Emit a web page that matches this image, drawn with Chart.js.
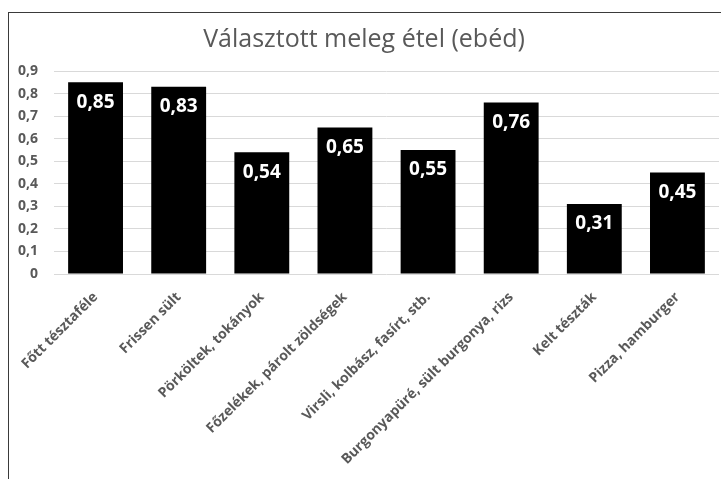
<!DOCTYPE html>
<html>
<head>
<meta charset="utf-8">
<script src="https://cdn.jsdelivr.net/npm/chart.js@4"></script>
<style>
  html, body { margin: 0; padding: 0; background: #fff; overflow: hidden; }
  #frame {
    position: absolute; left: 8px; top: 12px; width: 760px; height: 480px;
    border-left: 1px solid #3a3a3a; border-top: 1px solid #3a3a3a;
  }
  #wrap { position: absolute; left: 0; top: 0; width: 746px; height: 466px; }
</style>
</head>
<body>
<div id="frame"><div id="wrap"><canvas id="myChart"></canvas></div></div>
<script>
const chartTitle = 'Választott meleg étel (ebéd)';
const categories = [
  'Főtt tésztaféle',
  'Frissen sült',
  'Pörköltek, tokányok',
  'Főzelékek, párolt zöldségek',
  'Virsli, kolbász, fasírt, stb.',
  'Burgonyapüré, sült burgonya, rizs',
  'Kelt tészták',
  'Pizza, hamburger'
];
const values = [0.85, 0.83, 0.54, 0.65, 0.55, 0.76, 0.31, 0.45];
const yTicks = [0, 0.1, 0.2, 0.3, 0.4, 0.5, 0.6, 0.7, 0.8, 0.9];

const fontName = '"Open Sans", "Noto Sans", sans-serif';
const grey = '#595959';

function huNum(v) {
  return String(Math.round(v * 100) / 100).replace('.', ',');
}

// white value labels inside the top of each bar
const barLabels = {
  id: 'barLabels',
  afterDatasetsDraw(chart) {
    const ctx = chart.ctx;
    const meta = chart.getDatasetMeta(0);
    ctx.save();
    ctx.fillStyle = '#ffffff';
    ctx.font = 'bold 19px ' + fontName;
    ctx.textAlign = 'center';
    ctx.textBaseline = 'middle';
    meta.data.forEach((bar, i) => {
      ctx.fillText(huNum(values[i]), bar.x, bar.y + 20);
    });
    ctx.restore();
  }
};

const ctx = document.getElementById('myChart');
const myChart = new Chart(ctx, {
  type: 'bar',
  data: {
    labels: categories,
    datasets: [{
      data: values,
      backgroundColor: '#000000',
      borderWidth: 0,
      categoryPercentage: 1,
      barPercentage: 0.66
    }]
  },
  options: {
    responsive: true,
    maintainAspectRatio: false,
    animation: false,
    layout: { padding: { left: 0, right: 36, top: 0, bottom: 0 } },
    plugins: {
      legend: { display: false },
      tooltip: { enabled: false },
      title: {
        display: true,
        text: chartTitle,
        color: grey,
        font: { family: fontName, size: 25, weight: 'normal' },
        padding: { top: 12, bottom: 16 }
      }
    },
    scales: {
      x: {
        grid: { display: false },
        border: { display: false },
        ticks: {
          color: grey,
          font: { family: fontName, size: 14, weight: 'bold' },
          minRotation: 45,
          maxRotation: 45,
          autoSkip: false,
          padding: 7
        },
        afterFit: (scale) => { scale.height = 205; }
      },
      y: {
        min: 0,
        max: 0.9,
        border: { display: false },
        grid: { color: '#d9d9d9', drawTicks: false },
        afterBuildTicks: (scale) => { scale.ticks = yTicks.map(v => ({ value: v })); },
        ticks: {
          color: grey,
          font: { family: fontName, size: 14, weight: 'bold' },
          padding: 16,
          callback: (v) => huNum(v)
        },
        afterFit: (scale) => { scale.width = 45; }
      }
    }
  },
  plugins: [barLabels]
});
</script>
</body>
</html>
